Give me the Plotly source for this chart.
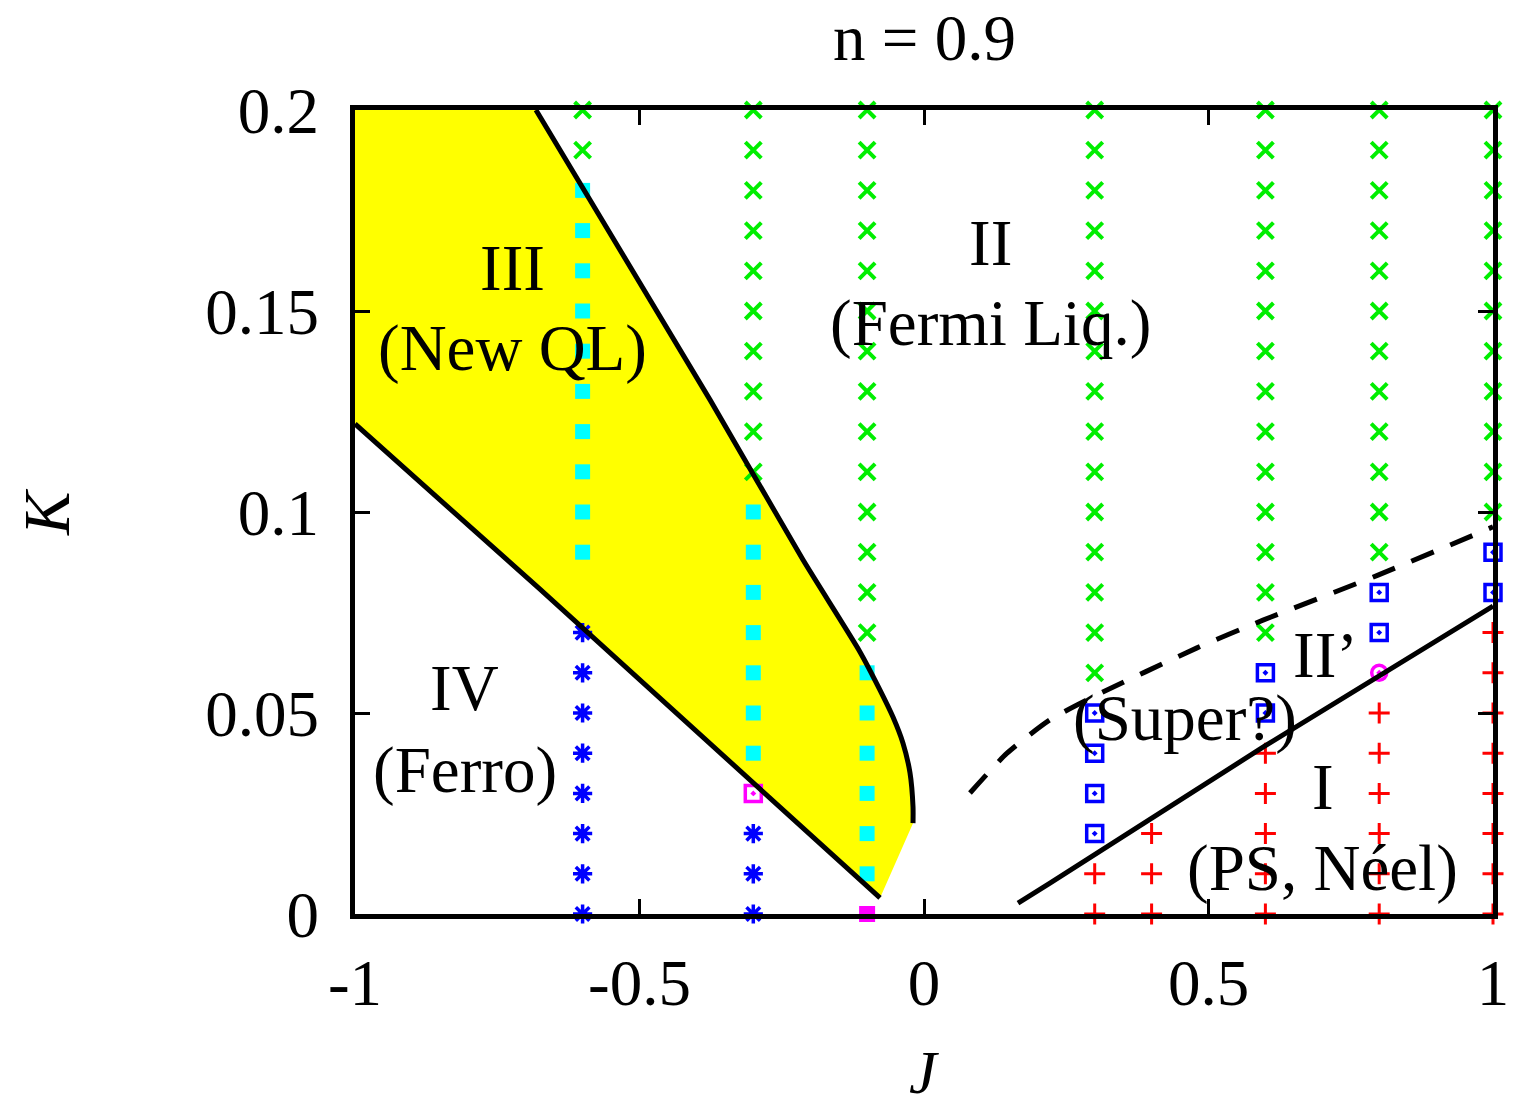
import plotly.graph_objects as go

# ---------------- data ----------------
x_tickvals = [-1, -0.5, 0, 0.5, 1]
x_ticktext = ["-1", "-0.5", "0", "0.5", "1"]
y_tickvals = [0, 0.05, 0.1, 0.15, 0.2]
y_ticktext = ["0", "0.05", "0.1", "0.15", "0.2"]

# green x (Fermi liquid)
green_J_cols = [-0.6, -0.3, -0.1, 0.3, 0.6, 0.8, 1.0]
green_K_cols = [
    [0.19, 0.20],
    [0.11, 0.12, 0.13, 0.14, 0.15, 0.16, 0.17, 0.18, 0.19, 0.20],
    [0.07, 0.08, 0.09, 0.10, 0.11, 0.12, 0.13, 0.14, 0.15, 0.16, 0.17, 0.18, 0.19, 0.20],
    [0.06, 0.07, 0.08, 0.09, 0.10, 0.11, 0.12, 0.13, 0.14, 0.15, 0.16, 0.17, 0.18, 0.19, 0.20],
    [0.07, 0.08, 0.09, 0.10, 0.11, 0.12, 0.13, 0.14, 0.15, 0.16, 0.17, 0.18, 0.19, 0.20],
    [0.09, 0.10, 0.11, 0.12, 0.13, 0.14, 0.15, 0.16, 0.17, 0.18, 0.19, 0.20],
    [0.10, 0.11, 0.12, 0.13, 0.14, 0.15, 0.16, 0.17, 0.18, 0.19, 0.20],
]
# cyan filled squares (new QL)
cyan_J_cols = [-0.6, -0.3, -0.1]
cyan_K_cols = [
    [0.09, 0.10, 0.11, 0.12, 0.13, 0.14, 0.15, 0.16, 0.17, 0.18],
    [0.04, 0.05, 0.06, 0.07, 0.08, 0.09, 0.10],
    [0.01, 0.02, 0.03, 0.04, 0.05, 0.06],
]
# blue asterisks (ferro)
ast_J_cols = [-0.6, -0.3]
ast_K_cols = [
    [0.0, 0.01, 0.02, 0.03, 0.04, 0.05, 0.06, 0.07],
    [0.0, 0.01, 0.02],
]
# blue open squares with dot (super?)
bsq_J_cols = [0.3, 0.6, 0.8, 1.0]
bsq_K_cols = [
    [0.02, 0.03, 0.04, 0.05],
    [0.05, 0.06],
    [0.07, 0.08],
    [0.08, 0.09],
]
# red plus (PS, Neel)
red_J_cols = [0.3, 0.4, 0.6, 0.8, 1.0]
red_K_cols = [
    [0.0, 0.01],
    [0.0, 0.01, 0.02],
    [0.0, 0.01, 0.02, 0.03, 0.04],
    [0.0, 0.01, 0.02, 0.03, 0.04, 0.05],
    [0.0, 0.01, 0.02, 0.03, 0.04, 0.05, 0.06, 0.07],
]
# magenta special points
mag_sq_J, mag_sq_K = [-0.3], [0.03]
mag_fill_J, mag_fill_K = [-0.1], [0.0]
mag_circ_J, mag_circ_K = [0.8], [0.06]

# boundaries
upper_J = [-0.682, -0.376, -0.2127, -0.1125, -0.0773, -0.0545, -0.0369, -0.0246, -0.0193, -0.0193]
upper_K = [0.2, 0.1279, 0.0881, 0.0652, 0.0557, 0.0490, 0.0425, 0.0351, 0.0266, 0.0226]
lower_J = [-1.0, -0.675, -0.0773]
lower_K = [0.1219, 0.0808, 0.0040]
dash_J = [0.0808, 0.1459, 0.2214, 0.2970, 0.4798, 0.5958, 0.7979, 1.0]
dash_K = [0.0301, 0.0400, 0.0483, 0.0540, 0.0662, 0.0731, 0.0843, 0.0963]
neel_J = [0.1652, 0.2214, 0.5958, 0.7979, 1.0]
neel_K = [0.0027, 0.0077, 0.0415, 0.0590, 0.0766]

labels = [
    ("III", -0.724, 0.1607),
    ("(New QL)", -0.724, 0.1408),
    ("II", 0.116, 0.167),
    ("(Fermi Liq.)", 0.116, 0.147),
    ("IV", -0.807, 0.0562),
    ("(Ferro)", -0.807, 0.0358),
    ("II\u2019", 0.705, 0.0644),
    ("(Super?)", 0.459, 0.0488),
    ("I", 0.701, 0.0316),
    ("(PS, N\u00e9el)", 0.701, 0.0114),
]

FONT = "Liberation Serif, Times New Roman, serif"
FS = 65


def flatten(jcols, kcols):
    xs, ys = [], []
    for j, ks in zip(jcols, kcols):
        for k in ks:
            xs.append(j)
            ys.append(k)
    return xs, ys


fig = go.Figure()

# yellow region III
poly_J = [-1.0] + upper_J + lower_J[::-1] + [-1.0]
poly_K = [0.2] + upper_K + lower_K[::-1] + [0.2]
fig.add_trace(go.Scatter(x=poly_J, y=poly_K, mode="lines", fill="toself",
                         fillcolor="#ffff00", line=dict(width=0, color="rgba(0,0,0,0)"),
                         hoverinfo="skip"))

# markers
gx, gy = flatten(green_J_cols, green_K_cols)
fig.add_trace(go.Scatter(x=gx, y=gy, mode="markers", cliponaxis=False,
                         marker=dict(symbol="x-thin-open", size=16, color="#00ee00",
                                     line=dict(width=4, color="#00ee00"))))
cx, cy = flatten(cyan_J_cols, cyan_K_cols)
fig.add_trace(go.Scatter(x=cx, y=cy, mode="markers", cliponaxis=False,
                         marker=dict(symbol="square", size=15, color="#00ffff",
                                     line=dict(width=0))))
ax_, ay_ = flatten(ast_J_cols, ast_K_cols)
fig.add_trace(go.Scatter(x=ax_, y=ay_, mode="markers", cliponaxis=False,
                         marker=dict(symbol="asterisk-open", size=16, color="#0000ff",
                                     line=dict(width=3.5, color="#0000ff"))))
bx, by = flatten(bsq_J_cols, bsq_K_cols)
fig.add_trace(go.Scatter(x=bx, y=by, mode="markers", cliponaxis=False,
                         marker=dict(symbol="square-open-dot", size=16, color="#0000ff",
                                     line=dict(width=3.5, color="#0000ff"))))
rx, ry = flatten(red_J_cols, red_K_cols)
fig.add_trace(go.Scatter(x=rx, y=ry, mode="markers", cliponaxis=False,
                         marker=dict(symbol="cross-thin-open", size=15, color="#ff0000",
                                     line=dict(width=3, color="#ff0000"))))
fig.add_trace(go.Scatter(x=mag_sq_J, y=mag_sq_K, mode="markers", cliponaxis=False,
                         marker=dict(symbol="square-open-dot", size=16, color="#ff00ff",
                                     line=dict(width=3.5, color="#ff00ff"))))
fig.add_trace(go.Scatter(x=mag_fill_J, y=mag_fill_K, mode="markers", cliponaxis=False,
                         marker=dict(symbol="square", size=16, color="#ff00ff",
                                     line=dict(width=0))))
fig.add_trace(go.Scatter(x=mag_circ_J, y=mag_circ_K, mode="markers", cliponaxis=False,
                         marker=dict(symbol="circle-open-dot", size=15, color="#ff00ff",
                                     line=dict(width=3.5, color="#ff00ff"))))

# boundary lines
fig.add_trace(go.Scatter(x=upper_J, y=upper_K, mode="lines",
                         line=dict(color="black", width=5, shape="spline", smoothing=0.6)))
fig.add_trace(go.Scatter(x=lower_J, y=lower_K, mode="lines", line=dict(color="black", width=5)))
fig.add_trace(go.Scatter(x=dash_J, y=dash_K, mode="lines",
                         line=dict(color="black", width=5, dash="24px,18px", shape="spline", smoothing=0.6)))
fig.add_trace(go.Scatter(x=neel_J, y=neel_K, mode="lines", line=dict(color="black", width=5)))

for txt, xj, yk in labels:
    fig.add_annotation(x=xj, y=yk, text=txt, showarrow=False,
                       font=dict(family=FONT, size=FS, color="black"),
                       xanchor="center", yanchor="middle")

# title and axis titles
fig.add_annotation(x=0.5, y=1.0, xref="paper", yref="paper", text="n = 0.9", showarrow=False,
                   font=dict(family=FONT, size=FS, color="black"),
                   xanchor="center", yanchor="middle", yshift=72)
fig.add_annotation(x=0.5, y=0.0, xref="paper", yref="paper", text="<i>J</i>", showarrow=False,
                   font=dict(family=FONT, size=62, color="black"),
                   xanchor="center", yanchor="middle", yshift=-158)
fig.add_annotation(x=0.0, y=0.5, xref="paper", yref="paper", text="<i>K</i>", showarrow=False,
                   font=dict(family=FONT, size=FS, color="black"), textangle=-90,
                   xanchor="center", yanchor="middle", xshift=-308)

axis_common = dict(showgrid=False, zeroline=False, showline=True, linecolor="black", linewidth=5,
                   mirror="ticks", ticks="inside", ticklen=15, tickwidth=3, tickcolor="black",
                   automargin=False,
                   tickfont=dict(family=FONT, size=FS, color="black"))
fig.update_xaxes(range=[-1, 1], tickvals=x_tickvals, ticktext=x_ticktext, ticklabelstandoff=8, **axis_common)
fig.update_yaxes(range=[0, 0.2], tickvals=y_tickvals, ticktext=y_ticktext, ticklabelstandoff=18, **axis_common)

fig.update_layout(width=1513, height=1110, autosize=False, showlegend=False,
                  plot_bgcolor="white", paper_bgcolor="white",
                  margin=dict(l=355, r=20, t=110, b=196, autoexpand=False))

fig.write_html("out.html", config={"displayModeBar": False},
               post_script="document.body.style.margin='0px';document.body.style.overflow='hidden';")
